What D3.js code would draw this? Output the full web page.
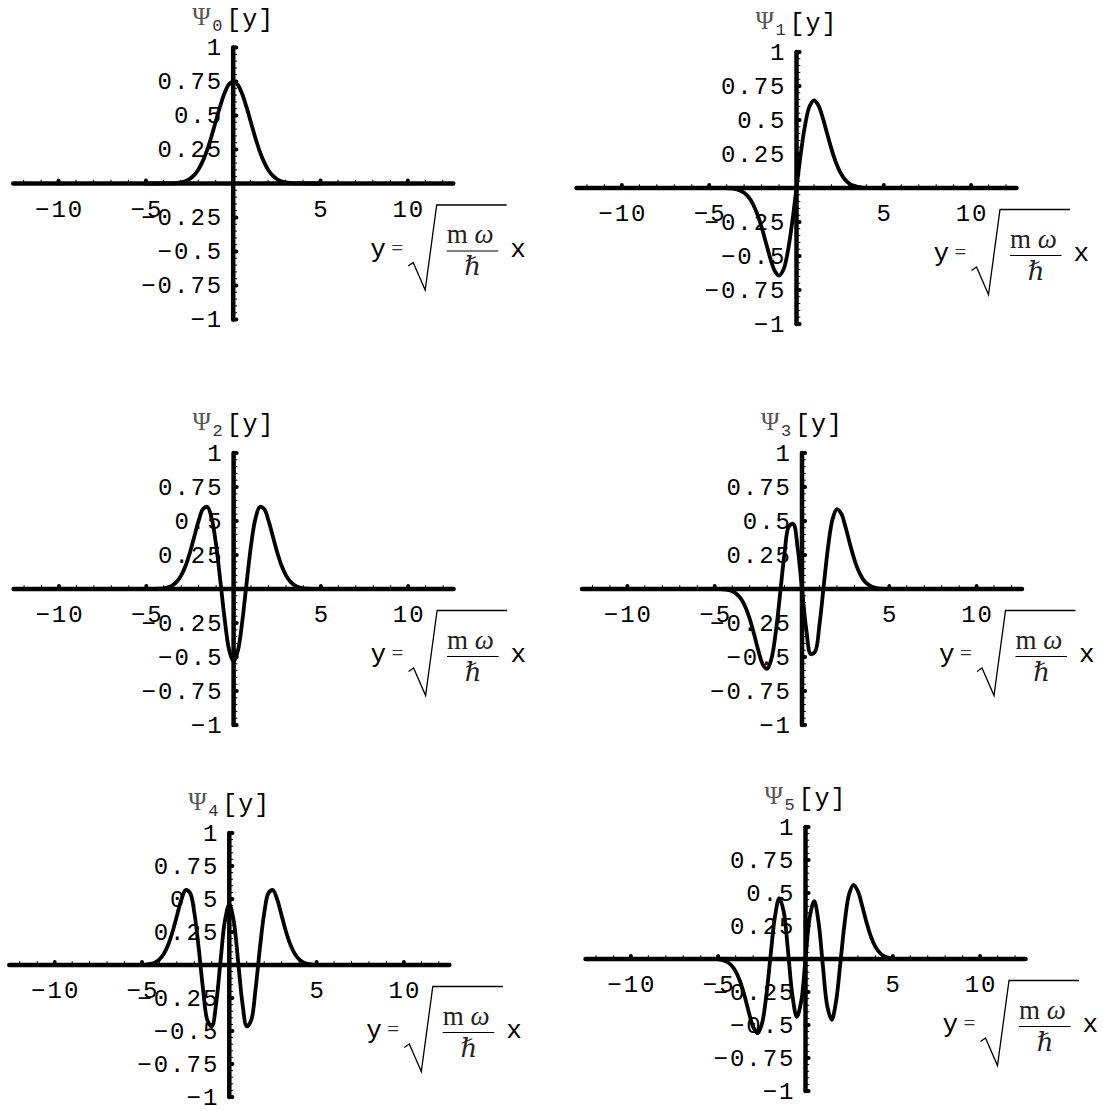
<!DOCTYPE html>
<html>
<head>
<meta charset="utf-8">
<script src="https://cdn.jsdelivr.net/npm/d3@7/dist/d3.min.js"></script>
<style>
  body { margin: 0; background: #fff; }
  svg { display: block; }
  text { font-family: "Liberation Mono", "DejaVu Sans Mono", monospace; fill: #000; }
  .serif { font-family: "Liberation Serif", "DejaVu Serif", serif; }
</style>
</head>
<body>
<script>
  // sample grid of the plotted curves (y = sqrt(m w / hbar) x)
  var xs = [-5, -4.75, -4.5, -4.25, -4, -3.75, -3.5, -3.25, -3, -2.75, -2.5, -2.25, -2, -1.75, -1.5, -1.25, -1, -0.75, -0.5, -0.25,
    0, 0.25, 0.5, 0.75, 1, 1.25, 1.5, 1.75, 2, 2.25, 2.5, 2.75, 3, 3.25, 3.5, 3.75, 4, 4.25, 4.5, 4.75, 5];

  var psi0 = [0, 0, 0, 0.0001, 0.0003, 0.0007, 0.0016, 0.0038, 0.0083, 0.0171, 0.0330, 0.0598, 0.1017, 0.1624, 0.2439, 0.3439, 0.4556, 0.5670, 0.6629, 0.7280,
    0.7511, 0.7280, 0.6629, 0.5670, 0.4556, 0.3439, 0.2439, 0.1624, 0.1017, 0.0598, 0.0330, 0.0171, 0.0083, 0.0038, 0.0016, 0.0007, 0.0003, 0.0001, 0, 0, 0];
  var psi1 = [0, -0.0001, -0.0002, -0.0005, -0.0014, -0.0035, -0.0081, -0.0176, -0.0354, -0.0666, -0.1167, -0.1902, -0.2875, -0.4020, -0.5173, -0.6079, -0.6443, -0.6014, -0.4687, -0.2574,
    0, 0.2574, 0.4687, 0.6014, 0.6443, 0.6079, 0.5173, 0.4020, 0.2875, 0.1902, 0.1167, 0.0666, 0.0354, 0.0176, 0.0081, 0.0035, 0.0014, 0.0005, 0.0002, 0.0001, 0];
  var psi2 = [0.0001, 0.0003, 0.0008, 0.0022, 0.0055, 0.0127, 0.0273, 0.0544, 0.1003, 0.1710, 0.2684, 0.3856, 0.5032, 0.5887, 0.6035, 0.5167, 0.3221, 0.0501, -0.2344, -0.4504,
    -0.5311, -0.4504, -0.2344, 0.0501, 0.3221, 0.5167, 0.6035, 0.5887, 0.5032, 0.3856, 0.2684, 0.1710, 0.1003, 0.0544, 0.0273, 0.0127, 0.0055, 0.0022, 0.0008, 0.0003, 0.0001];
  var psi3 = [-0.0004, -0.0011, -0.0029, -0.0073, -0.0169, -0.0361, -0.0714, -0.1299, -0.2168, -0.3296, -0.4526, -0.5531, -0.5869, -0.5129, -0.3168, -0.0310, 0.2630, 0.4603, 0.4784, 0.3021,
    0, -0.3021, -0.4784, -0.4603, -0.2630, 0.0310, 0.3168, 0.5129, 0.5869, 0.5531, 0.4526, 0.3296, 0.2168, 0.1299, 0.0714, 0.0361, 0.0169, 0.0073, 0.0029, 0.0011, 0.0004];
  var psi4 = [0.0012, 0.0034, 0.0086, 0.0200, 0.0429, 0.0847, 0.1530, 0.2515, 0.3730, 0.4928, 0.5676, 0.5461, 0.3943, 0.1249, -0.1867, -0.4201, -0.4650, -0.2875, 0.0338, 0.3367,
    0.4600, 0.3367, 0.0338, -0.2875, -0.4650, -0.4201, -0.1867, 0.1249, 0.3943, 0.5461, 0.5676, 0.4928, 0.3730, 0.2515, 0.1530, 0.0847, 0.0429, 0.0200, 0.0086, 0.0034, 0.0012];
  var psi5 = [-0.0036, -0.0093, -0.0218, -0.0472, -0.0934, -0.1687, -0.2748, -0.4007, -0.5138, -0.5623, -0.4927, -0.2823, 0.0262, 0.3206, 0.4604, 0.3598, 0.0588, -0.2753, -0.4386, -0.3234,
    0, 0.3234, 0.4386, 0.2753, -0.0588, -0.3598, -0.4604, -0.3206, -0.0262, 0.2823, 0.4927, 0.5623, 0.5138, 0.4007, 0.2748, 0.1687, 0.0934, 0.0472, 0.0218, 0.0093, 0.0036];

  var series = [psi0, psi1, psi2, psi3, psi4, psi5];
  var levels = ["0", "1", "2", "3", "4", "5"];

  var xTicks = [-10, -5, 5, 10];
  var xTickLabels = ["\u221210", "\u22125", "5", "10"];
  var yTicks = [1, 0.75, 0.5, 0.25, -0.25, -0.5, -0.75, -1];
  var yTickLabels = ["1", "0.75", "0.5", "0.25", "\u22120.25", "\u22120.5", "\u22120.75", "\u22121"];
  var xDomain = [-12.6, 12.6];

  // origin (pixel of x=0, y=0) and vertical size of each small plot
  var origins = [[233.2, 183.5], [796.5, 188], [233.6, 589], [802, 589], [229.3, 965], [805.5, 959]];
  var heights = [136, 136, 136, 136, 132, 132];

  var W = 1103, H = 1111,
    kx = 17.46,
    fs = 24, ls = 2;

  var svg = d3.select("body").append("svg")
    .attr("width", W)
    .attr("height", H);

  svg.append("rect").attr("width", W).attr("height", H).attr("fill", "#fff");

  series.forEach(function (vals, n) {
    var ox = origins[n][0], oy = origins[n][1], ky = heights[n],
      x = d3.scaleLinear().domain([0, 1]).range([ox, ox + kx]),
      y = d3.scaleLinear().domain([-1, 1]).range([oy + ky, oy - ky]),
      g = svg.append("g").attr("class", "panel");

    // minor ticks
    var xMinor = d3.range(-12, 13).filter(function (d) { return d !== 0 && d % 5 !== 0; });
    g.selectAll(".xminor").data(xMinor).enter().append("line")
      .attr("x1", function (d) { return x(d); }).attr("x2", function (d) { return x(d); })
      .attr("y1", oy).attr("y2", oy - 3.8)
      .attr("stroke", "#000").attr("stroke-width", 1);
    var yMinor = d3.range(-20, 21).filter(function (d) { return d % 5 !== 0; }).map(function (d) { return d / 20; });
    g.selectAll(".yminor").data(yMinor).enter().append("line")
      .attr("x1", ox).attr("x2", ox + 3.8)
      .attr("y1", function (d) { return y(d); }).attr("y2", function (d) { return y(d); })
      .attr("stroke", "#000").attr("stroke-width", 1);

    // axes
    g.append("line")
      .attr("x1", x(xDomain[0])).attr("x2", x(xDomain[1]))
      .attr("y1", y(0)).attr("y2", y(0))
      .attr("stroke", "#000").attr("stroke-width", 4.5).attr("stroke-linecap", "round");
    g.append("line")
      .attr("x1", x(0)).attr("x2", x(0))
      .attr("y1", y(-1)).attr("y2", y(1))
      .attr("stroke", "#000").attr("stroke-width", 4.5).attr("stroke-linecap", "round");

    // major ticks
    g.selectAll(".xmajor").data(xTicks).enter().append("line")
      .attr("x1", function (d) { return x(d); }).attr("x2", function (d) { return x(d); })
      .attr("y1", oy).attr("y2", oy - 3.2)
      .attr("stroke", "#000").attr("stroke-width", 3.8).attr("stroke-linecap", "round");
    g.selectAll(".ymajor").data(yTicks).enter().append("line")
      .attr("x1", ox).attr("x2", ox + 3.2)
      .attr("y1", function (d) { return y(d); }).attr("y2", function (d) { return y(d); })
      .attr("stroke", "#000").attr("stroke-width", 3.8).attr("stroke-linecap", "round");

    // tick labels
    g.selectAll(".xlab").data(xTicks).enter().append("text")
      .attr("x", function (d) { return x(d) + ls / 2; })
      .attr("y", oy + 33)
      .attr("text-anchor", "middle")
      .style("font-size", fs + "px").style("letter-spacing", ls + "px")
      .text(function (d, i) { return xTickLabels[i]; });
    g.selectAll(".ylab").data(yTicks).enter().append("text")
      .attr("x", ox - 12 + ls)
      .attr("y", function (d) { return y(d) + 7.5; })
      .attr("text-anchor", "end")
      .style("font-size", fs + "px").style("letter-spacing", ls + "px")
      .text(function (d, i) { return yTickLabels[i]; });

    // curve
    var line = d3.line()
      .x(function (d, i) { return x(xs[i]); })
      .y(function (d) { return y(d); })
      .curve(d3.curveCatmullRom.alpha(0.5));
    g.append("path")
      .attr("d", line(vals))
      .attr("fill", "none").attr("stroke", "#000")
      .attr("stroke-width", 3.8).attr("stroke-linejoin", "round");

    // title  Psi_n[y]
    var top = y(1);
    g.append("text").attr("class", "serif")
      .attr("x", ox - 41).attr("y", top - 23)
      .style("font-size", "25px").style("fill", "#555")
      .text("\u03A8");
    g.append("text")
      .attr("x", ox - 21).attr("y", top - 17)
      .style("font-size", "17px").style("fill", "#333")
      .text(levels[n]);
    g.append("text")
      .attr("x", ox - 7).attr("y", top - 21)
      .style("font-size", "25px").style("letter-spacing", "1px")
      .text("[y]");

    // axis label  y = sqrt(m w / hbar) x
    var a = g.append("g").attr("transform", "translate(" + ox + "," + oy + ")");
    a.append("text").attr("x", 137).attr("y", 73)
      .style("font-size", "26px").text("y");
    a.append("text").attr("class", "serif").attr("x", 158).attr("y", 71)
      .style("font-size", "21px").style("fill", "#333").text("=");
    a.append("path")
      .attr("d", "M175,82.5L180,79L192,106.5L203.5,21.5L273.5,21.5")
      .attr("fill", "none").attr("stroke", "#000").attr("stroke-width", 1.3);
    a.append("text").attr("class", "serif").attr("x", 213.5).attr("y", 59.5)
      .style("font-size", "27px").style("fill", "#222")
      .html("m <tspan font-style=\"italic\">\u03C9</tspan>");
    a.append("line")
      .attr("x1", 213.5).attr("x2", 265).attr("y1", 67.5).attr("y2", 67.5)
      .attr("stroke", "#000").attr("stroke-width", 1.2);
    a.append("text").attr("class", "serif").attr("x", 239.5).attr("y", 91.5)
      .attr("text-anchor", "middle")
      .style("font-size", "26px").style("font-style", "italic").style("fill", "#222")
      .text("\u210F");
    a.append("text").attr("x", 277).attr("y", 73)
      .style("font-size", "26px").text("x");
  });
</script>
</body>
</html>
